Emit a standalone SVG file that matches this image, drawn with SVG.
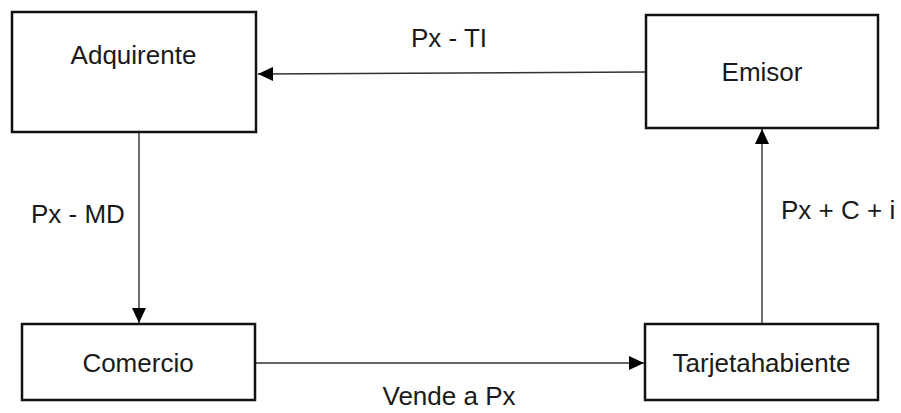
<svg xmlns="http://www.w3.org/2000/svg" width="901" height="413" viewBox="0 0 901 413">
<style>
.box{fill:#fff;stroke:#111;stroke-width:2.5}
.lbl{font-family:"Liberation Sans",Arial,sans-serif;font-size:26px;fill:#1a1a1a}
.c{text-anchor:middle}
.con{stroke:#333;stroke-width:1.4;fill:none;marker-end:url(#ah)}
</style>
<defs>
<marker id="ah" markerUnits="userSpaceOnUse" viewBox="0 0 15 14" refX="15" refY="7" markerWidth="15" markerHeight="14" orient="auto">
<path d="M0,0 L15,7 L0,14 Z" fill="#000"/>
</marker>
</defs>
<rect width="901" height="413" fill="#fff"/>
<g id="connectors">
<line class="con" x1="645" y1="72" x2="258" y2="74"/>
<line class="con" x1="139" y1="133" x2="139" y2="323"/>
<line class="con" x1="256" y1="363" x2="644" y2="363"/>
<line class="con" x1="762" y1="323" x2="762" y2="129"/>
</g>
<g id="adquirente">
<rect class="box" x="12" y="12" width="244" height="120"/>
<text class="lbl c" x="133.5" y="64">Adquirente</text>
</g>
<g id="emisor">
<rect class="box" x="646" y="15" width="232" height="113"/>
<text class="lbl c" x="762" y="81">Emisor</text>
</g>
<g id="comercio">
<rect class="box" x="22" y="324" width="233" height="76"/>
<text class="lbl c" x="138" y="372">Comercio</text>
</g>
<g id="tarjetahabiente">
<rect class="box" x="645" y="324" width="233" height="76"/>
<text class="lbl c" x="761.5" y="372">Tarjetahabiente</text>
</g>
<g id="labels">
<text class="lbl c" x="449" y="47">Px - TI</text>
<text class="lbl" x="31" y="223">Px - MD</text>
<text class="lbl" x="781" y="219">Px + C + i</text>
<text class="lbl c" x="449" y="405">Vende a Px</text>
</g>
</svg>
